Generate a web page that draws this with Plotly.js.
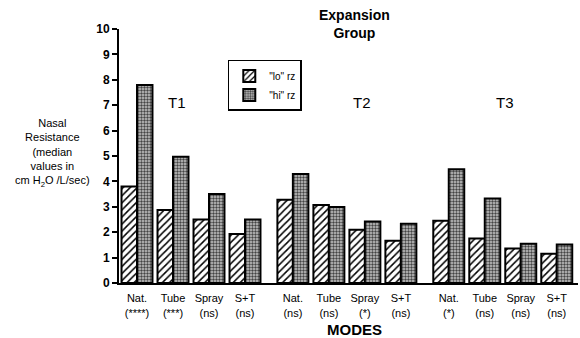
<!DOCTYPE html>
<html><head><meta charset="utf-8">
<script src="https://cdn.plot.ly/plotly-3.0.1.min.js"></script>
<style>html,body{margin:0;padding:0;background:#fff}#c{width:580px;height:338px}</style>
</head><body><div id="c"></div>
<script>
const groups = ["T1", "T2", "T3"];
const modes = ["Nat.", "Tube", "Spray", "S+T"];
const significance = [
  ["(****)", "(***)", "(ns)", "(ns)"],
  ["(ns)", "(ns)", "(*)", "(ns)"],
  ["(*)", "(ns)", "(ns)", "(ns)"]
];
const loRz = [3.8, 2.87, 2.5, 1.93, 3.28, 3.07, 2.1, 1.66, 2.45, 1.75, 1.36, 1.15];
const hiRz = [7.8, 4.97, 3.5, 2.5, 4.29, 2.99, 2.42, 2.33, 4.48, 3.33, 1.55, 1.52];

const groupStep = 4.33;
const xs = [], tickText = [];
groups.forEach((g, gi) => modes.forEach((m, mi) => {
  xs.push(gi * groupStep + mi);
  tickText.push(m + "<br>" + significance[gi][mi]);
}));

const font = "Liberation Sans, Arial, sans-serif";
const traces = [
  {type: "bar", name: '"lo" rz', x: xs, y: loRz,
   marker: {color: "#ffffff", line: {color: "#000", width: 2},
            pattern: {shape: "/", fgcolor: "#000", bgcolor: "#fff", size: 5, solidity: 0.3}}},
  {type: "bar", name: '"hi" rz', x: xs, y: hiRz,
   marker: {color: "#a0a0a0", line: {color: "#000", width: 2},
            pattern: {shape: ".", fgcolor: "#444", bgcolor: "#c8c8c8", size: 3, solidity: 0.5}}}
];
const groupLabelX = [1.11, 6.25, 10.22];
const annotations = groups.map((g, i) => ({
  x: groupLabelX[i], y: 7.09, xref: "x", yref: "y", text: g, showarrow: false,
  font: {family: font, size: 15, color: "#000"}
}));
annotations.push({
  xref: "paper", yref: "paper", x: -0.144, y: 0.51, xanchor: "center", yanchor: "middle",
  text: "Nasal<br>Resistance<br>(median<br>values in<br>cm H<sub>2</sub>O /L/sec)",
  showarrow: false, align: "center", font: {family: font, size: 11, color: "#000"}
});
annotations.push({
  xref: "paper", yref: "paper", x: 0.514, y: 1.02, xanchor: "center", yanchor: "middle",
  text: "<b>Expansion<br>Group</b>", showarrow: false, align: "center",
  font: {family: font, size: 14, color: "#000"}
});
annotations.push({
  xref: "paper", yref: "paper", x: 0.512, y: -0.185, xanchor: "center", yanchor: "middle",
  text: "<b>MODES</b>", showarrow: false, font: {family: font, size: 15, color: "#000"}
});
const layout = {
  width: 580, height: 338,
  margin: {l: 119, r: 2, t: 29, b: 55},
  paper_bgcolor: "#fff", plot_bgcolor: "#fff",
  barmode: "group", bargap: 0.14, bargroupgap: 0,
  xaxis: {range: [-0.5, 12.25], tickvals: xs, ticktext: tickText, showgrid: false, zeroline: false,
          showline: true, linecolor: "#000", linewidth: 2, ticks: "outside", ticklen: 4,
          tickcolor: "rgba(0,0,0,0)",
          tickfont: {family: font, size: 11, color: "#000"}},
  yaxis: {range: [0, 10], dtick: 1, showgrid: false, zeroline: false, showline: true,
          linecolor: "#000", linewidth: 2, ticks: "outside", ticklen: 5, tickwidth: 2, tickcolor: "#000",
          tickfont: {family: font, size: 12, color: "#000", weight: "bold"}},
  legend: {x: 0.237, y: 0.878, xanchor: "left", yanchor: "top", bordercolor: "#000", borderwidth: 1.5,
           bgcolor: "#fff", font: {family: font, size: 10, color: "#000"}, itemwidth: 30},
  annotations: annotations,
  showlegend: true
};
Plotly.newPlot("c", traces, layout, {displayModeBar: false, staticPlot: true});
</script></body></html>
